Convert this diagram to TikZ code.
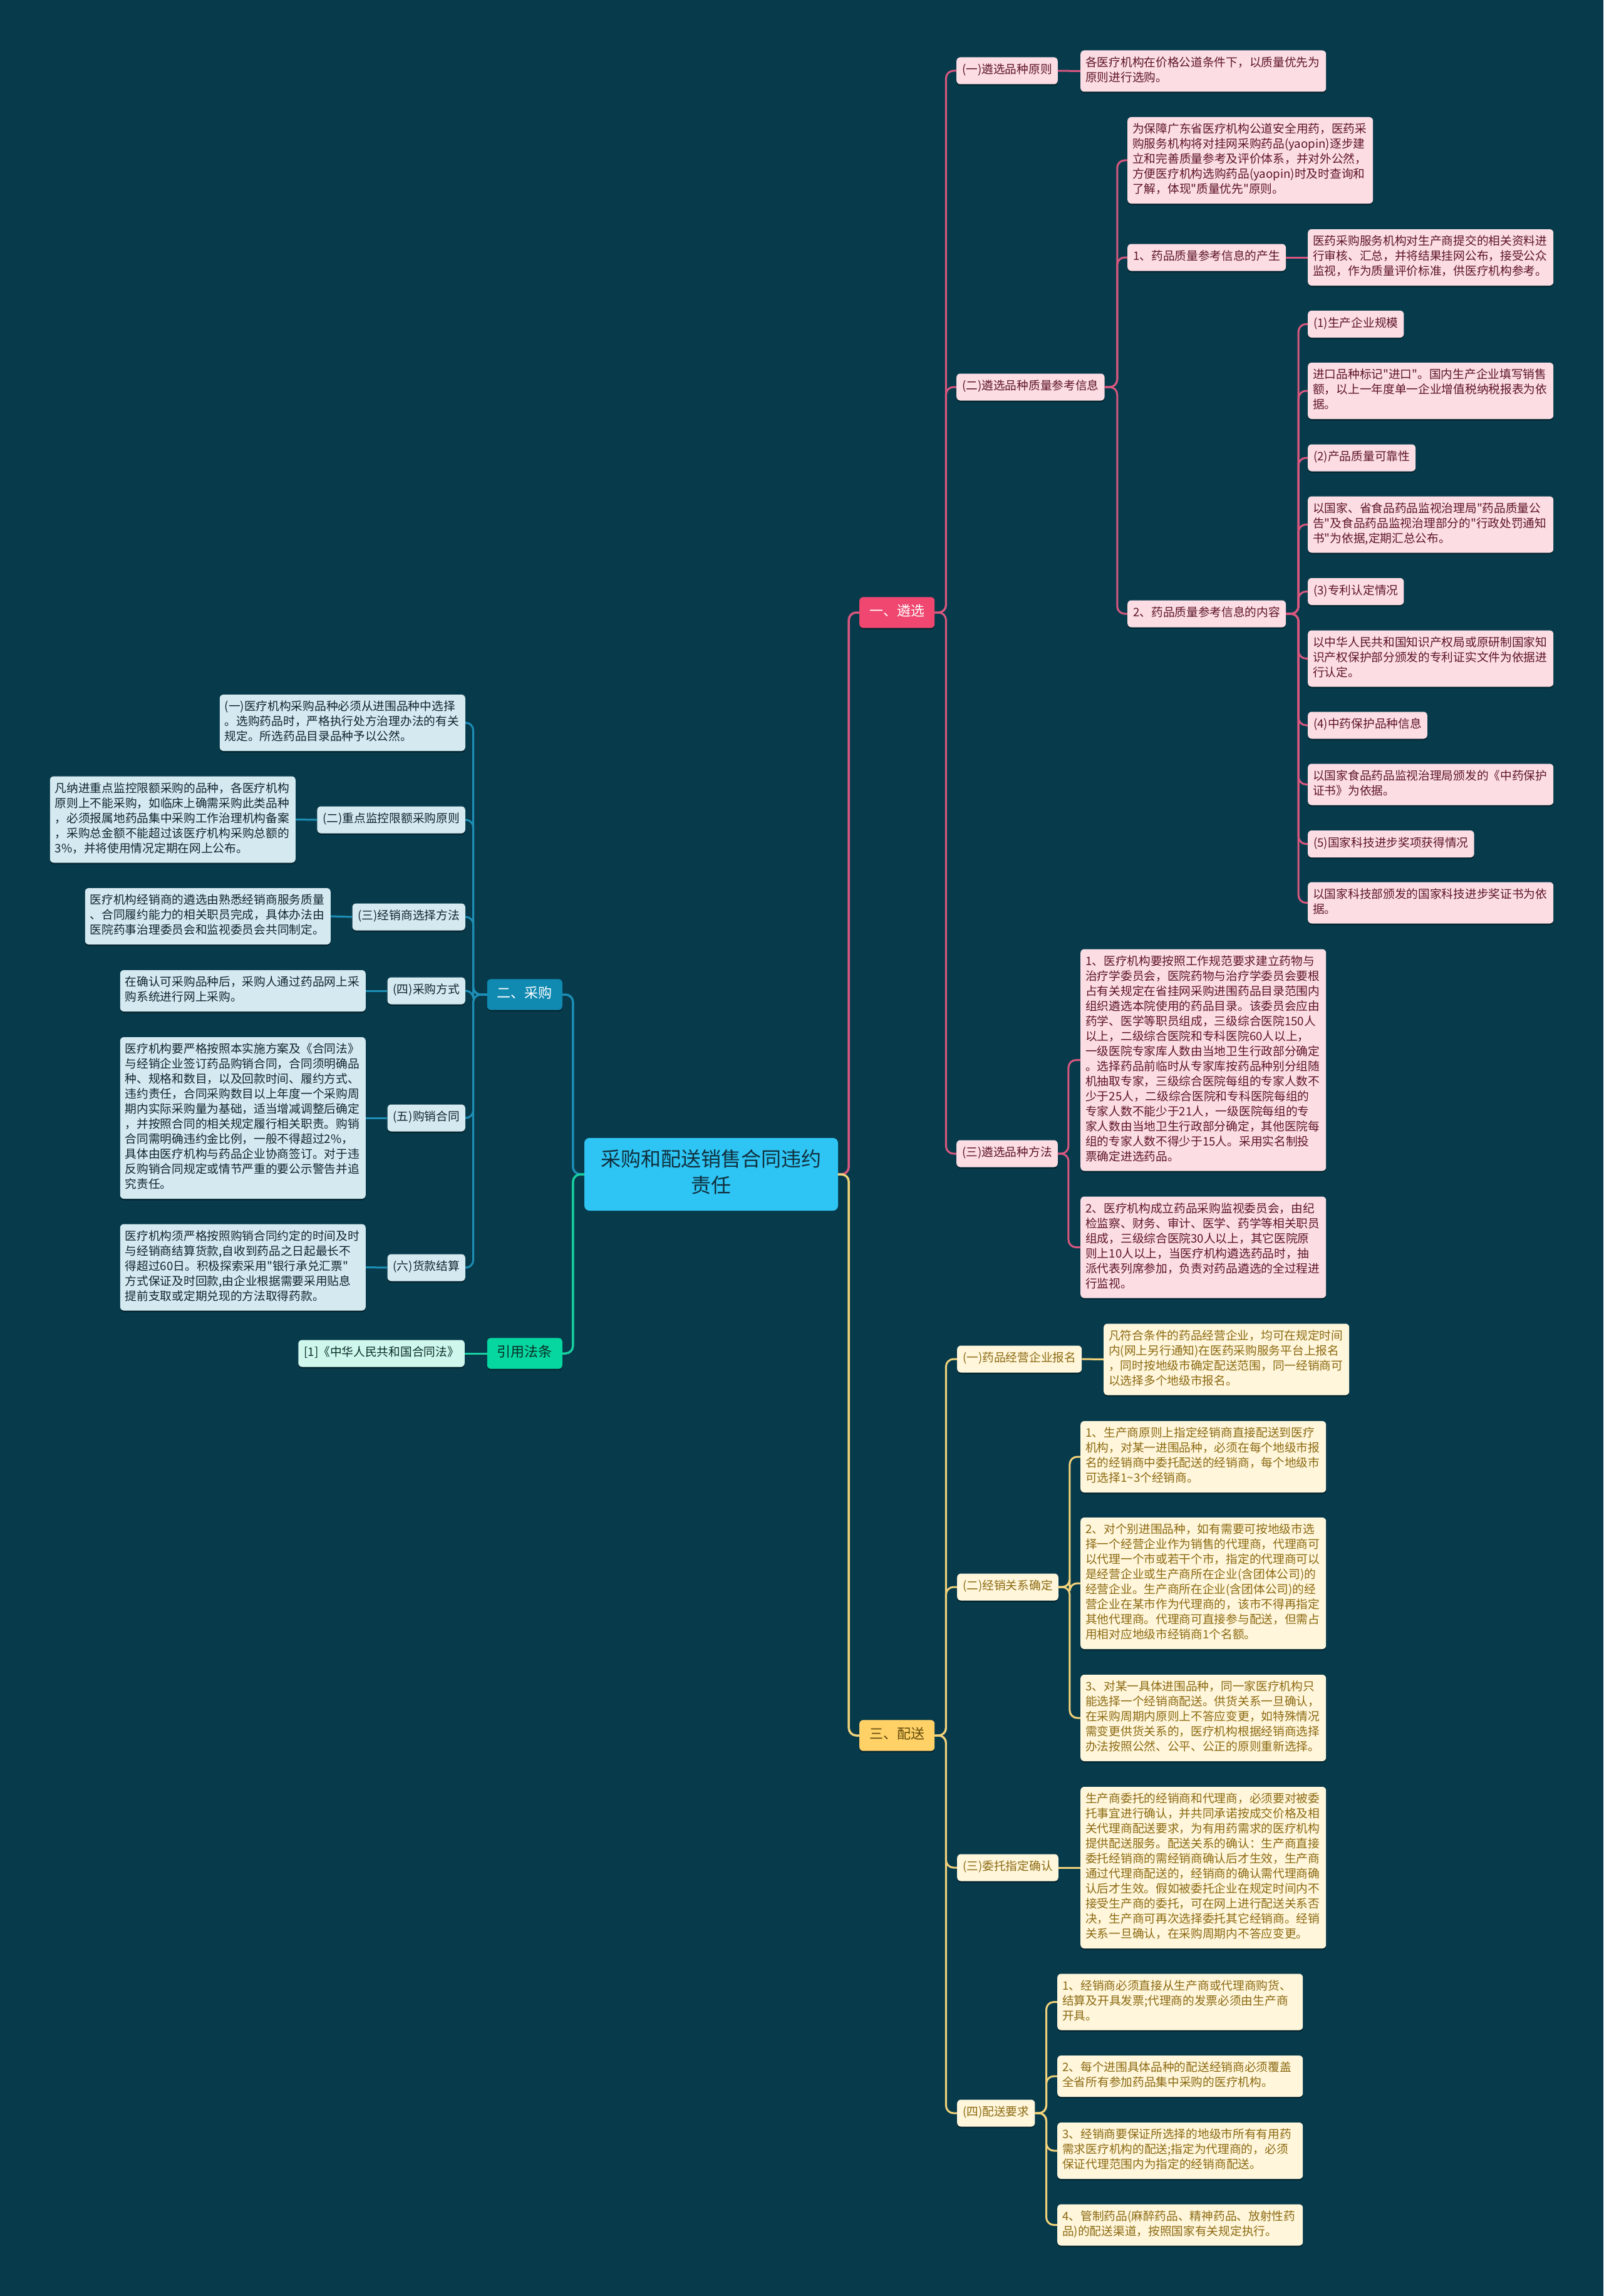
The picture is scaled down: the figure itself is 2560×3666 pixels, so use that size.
\documentclass[tikz,border=0pt]{standalone}
\usepackage{fontspec}
\setmainfont{Noto Sans CJK SC}[Ligatures=TeXOff]
\usetikzlibrary{shadows}
\definecolor{cbg}{HTML}{073B4C}
\definecolor{cpk}{HTML}{EF476F}
\definecolor{cpkln}{HTML}{D9577E}
\definecolor{cpkfill}{HTML}{FCDDE4}
\definecolor{cpktxt}{HTML}{5E1528}
\definecolor{cyw}{HTML}{FFD166}
\definecolor{cywln}{HTML}{F2D27A}
\definecolor{cywfill}{HTML}{FFF6DB}
\definecolor{cywtxt}{HTML}{8C6A12}
\definecolor{cbl}{HTML}{118AB2}
\definecolor{cblln}{HTML}{1E8EB6}
\definecolor{cblfill}{HTML}{D5E9F0}
\definecolor{cbltxt}{HTML}{0F2630}
\definecolor{cgr}{HTML}{06D6A0}
\definecolor{cgrln}{HTML}{18CFA0}
\definecolor{cgrfill}{HTML}{D0F7EC}
\definecolor{cgrtxt}{HTML}{0B2E26}
\definecolor{cctr}{HTML}{2EC4F3}
\definecolor{cctrtxt}{HTML}{10303E}

\begin{document}
\begin{tikzpicture}[x=1pt,y=-1pt,
  nshade/.style={drop shadow={shadow xshift=0pt,shadow yshift=-2.5pt,fill=black,opacity=0.35}},
  nbox/.style={rounded corners=6pt,nshade,font=\fontsize{18.7}{24}\selectfont,
    inner xsep=9pt,inner ysep=9.5pt,
    execute at begin node=\strut,execute at end node=\strut},
  nleaf/.style={nbox,text width=376pt,align=left,inner xsep=8pt,inner ysep=9pt},
  nmain/.style={rounded corners=6pt,nshade,font=\fontsize{22}{26}\selectfont,
    inner xsep=16pt,inner ysep=11.5pt,
    execute at begin node=\strut,execute at end node=\strut},
  pklab/.style={nbox,fill=cpkfill,text=cpktxt},
  pkleaf/.style={nleaf,fill=cpkfill,text=cpktxt},
  ywlab/.style={nbox,fill=cywfill,text=cywtxt},
  ywleaf/.style={nleaf,fill=cywfill,text=cywtxt},
  bllab/.style={nbox,fill=cblfill,text=cbltxt},
  blleaf/.style={nleaf,fill=cblfill,text=cbltxt},
  grlab/.style={nbox,fill=cgrfill,text=cgrtxt},
  mainpk/.style={nmain,fill=cpk,text=white},
  mainyw/.style={nmain,fill=cyw,text=cywtxt!70!black},
  mainbl/.style={nmain,fill=cbl,text=white},
  maingr/.style={nmain,fill=cgr,text=cgrtxt},
  lnpk/.style={draw=cpkln,line width=3pt,rounded corners=12pt},
  lnyw/.style={draw=cywln,line width=3pt,rounded corners=12pt},
  lnbl/.style={draw=cblln,line width=3pt,rounded corners=12pt},
  lngr/.style={draw=cgrln,line width=3pt,rounded corners=12pt}]
\useasboundingbox (0,0) rectangle (2560,3666);
\fill[cbg] (0,0) rectangle (2560,3666);

\node[rounded corners=8pt,fill=cctr,text=cctrtxt,font=\fontsize{32}{42}\selectfont,
  text width=354pt,align=center,inner xsep=25.5pt,inner ysep=16pt,
  execute at begin node=\strut,execute at end node=\strut] (root) at (1135.5,1875)
  {采购和配送销售合同违约\\责任};

\node[mainpk,anchor=west] (xuan) at (1372,978) {一、遴选};
\node[mainyw,anchor=west] (peis) at (1372,2771) {三、配送};
\node[mainbl,anchor=east] (cai) at (898,1588) {二、采购};
\node[maingr,anchor=east] (fatiao) at (898,2161) {引用法条};

% 一、遴选
\node[pklab,anchor=west] (xa) at (1527,113) {(一)遴选品种原则};
\node[pkleaf,anchor=west] (xa1) at (1725,113.5) {各医疗机构在价格公道条件下，以质量优先为\\原则进行选购。};
\node[pklab,anchor=west] (xb) at (1527,618) {(二)遴选品种质量参考信息};
\node[pkleaf,anchor=west] (xb0) at (1800,256) {为保障广东省医疗机构公道安全用药，医药采\\购服务机构将对挂网采购药品(yaopin)逐步建\\立和完善质量参考及评价体系，并对外公然，\\方便医疗机构选购药品(yaopin)时及时查询和\\了解，体现"质量优先"原则。};
\node[pklab,anchor=west] (xb1) at (1800,411) {1、药品质量参考信息的产生};
\node[pkleaf,anchor=west] (xb11) at (2088,411) {医药采购服务机构对生产商提交的相关资料进\\行审核、汇总，并将结果挂网公布，接受公众\\监视，作为质量评价标准，供医疗机构参考。};
\node[pklab,anchor=west] (xb2) at (1800,980) {2、药品质量参考信息的内容};
\node[pklab,anchor=west] (xc1) at (2088,517.5) {(1)生产企业规模};
\node[pkleaf,anchor=west] (xc2) at (2088,624) {进口品种标记"进口"。国内生产企业填写销售\\额，以上一年度单一企业增值税纳税报表为依\\据。};
\node[pklab,anchor=west] (xc3) at (2088,731) {(2)产品质量可靠性};
\node[pkleaf,anchor=west] (xc4) at (2088,837.5) {以国家、省食品药品监视治理局"药品质量公\\告"及食品药品监视治理部分的"行政处罚通知\\书"为依据,定期汇总公布。};
\node[pklab,anchor=west] (xc5) at (2088,944.5) {(3)专利认定情况};
\node[pkleaf,anchor=west] (xc6) at (2088,1051.5) {以中华人民共和国知识产权局或原研制国家知\\识产权保护部分颁发的专利证实文件为依据进\\行认定。};
\node[pklab,anchor=west] (xc7) at (2088,1158) {(4)中药保护品种信息};
\node[pkleaf,anchor=west] (xc8) at (2088,1252.5) {以国家食品药品监视治理局颁发的《中药保护\\证书》为依据。};
\node[pklab,anchor=west] (xc9) at (2088,1347.5) {(5)国家科技进步奖项获得情况};
\node[pkleaf,anchor=west] (xc10) at (2088,1441.5) {以国家科技部颁发的国家科技进步奖证书为依\\据。};
\node[pklab,anchor=west] (xd) at (1527,1842) {(三)遴选品种方法};
\node[pkleaf,anchor=west] (xd1) at (1725,1692.5) {1、医疗机构要按照工作规范要求建立药物与\\治疗学委员会，医院药物与治疗学委员会要根\\占有关规定在省挂网采购进围药品目录范围内\\组织遴选本院使用的药品目录。该委员会应由\\药学、医学等职员组成，三级综合医院150人\\以上，二级综合医院和专科医院60人以上，\\一级医院专家库人数由当地卫生行政部分确定\\。选择药品前临时从专家库按药品种别分组随\\机抽取专家，三级综合医院每组的专家人数不\\少于25人，二级综合医院和专科医院每组的\\专家人数不能少于21人，一级医院每组的专\\家人数由当地卫生行政部分确定，其他医院每\\组的专家人数不得少于15人。采用实名制投\\票确定进选药品。};
\node[pkleaf,anchor=west] (xd2) at (1725,1991.5) {2、医疗机构成立药品采购监视委员会，由纪\\检监察、财务、审计、医学、药学等相关职员\\组成，三级综合医院30人以上，其它医院原\\则上10人以上，当医疗机构遴选药品时，抽\\派代表列席参加，负责对药品遴选的全过程进\\行监视。};

% 三、配送
\node[ywlab,anchor=west] (pa) at (1528,2170) {(一)药品经营企业报名};
\node[ywleaf,anchor=west] (pa1) at (1762,2170.5) {凡符合条件的药品经营企业，均可在规定时间\\内(网上另行通知)在医药采购服务平台上报名\\，同时按地级市确定配送范围，同一经销商可\\以选择多个地级市报名。};
\node[ywlab,anchor=west] (pb) at (1528,2534) {(二)经销关系确定};
\node[ywleaf,anchor=west] (pb1) at (1725,2326) {1、生产商原则上指定经销商直接配送到医疗\\机构，对某一进围品种，必须在每个地级市报\\名的经销商中委托配送的经销商，每个地级市\\可选择1\textasciitilde 3个经销商。};
\node[ywleaf,anchor=west] (pb2) at (1725,2528) {2、对个别进围品种，如有需要可按地级市选\\择一个经营企业作为销售的代理商，代理商可\\以代理一个市或若干个市，指定的代理商可以\\是经营企业或生产商所在企业(含团体公司)的\\经营企业。生产商所在企业(含团体公司)的经\\营企业在某市作为代理商的，该市不得再指定\\其他代理商。代理商可直接参与配送，但需占\\用相对应地级市经销商1个名额。};
\node[ywleaf,anchor=west] (pb3) at (1725,2743) {3、对某一具体进围品种，同一家医疗机构只\\能选择一个经销商配送。供货关系一旦确认，\\在采购周期内原则上不答应变更，如特殊情况\\需变更供货关系的，医疗机构根据经销商选择\\办法按照公然、公平、公正的原则重新选择。};
\node[ywlab,anchor=west] (pc) at (1528,2982) {(三)委托指定确认};
\node[ywleaf,anchor=west] (pc1) at (1725,2982) {生产商委托的经销商和代理商，必须要对被委\\托事宜进行确认，并共同承诺按成交价格及相\\关代理商配送要求，为有用药需求的医疗机构\\提供配送服务。配送关系的确认：生产商直接\\委托经销商的需经销商确认后才生效，生产商\\通过代理商配送的，经销商的确认需代理商确\\认后才生效。假如被委托企业在规定时间内不\\接受生产商的委托，可在网上进行配送关系否\\决，生产商可再次选择委托其它经销商。经销\\关系一旦确认，在采购周期内不答应变更。};
\node[ywlab,anchor=west] (pd) at (1528,3374) {(四)配送要求};
\node[ywleaf,anchor=west] (pd1) at (1688,3196.5) {1、经销商必须直接从生产商或代理商购货、\\结算及开具发票;代理商的发票必须由生产商\\开具。};
\node[ywleaf,anchor=west] (pd2) at (1688,3315) {2、每个进围具体品种的配送经销商必须覆盖\\全省所有参加药品集中采购的医疗机构。};
\node[ywleaf,anchor=west] (pd3) at (1688,3434) {3、经销商要保证所选择的地级市所有有用药\\需求医疗机构的配送;指定为代理商的，必须\\保证代理范围内为指定的经销商配送。};
\node[ywleaf,anchor=west] (pd4) at (1688,3552.5) {4、管制药品(麻醉药品、精神药品、放射性药\\品)的配送渠道，按照国家有关规定执行。};

% 二、采购
\node[blleaf,anchor=east] (ca) at (743,1154) {(一)医疗机构采购品种必须从进围品种中选择\\。选购药品时，严格执行处方治理办法的有关\\规定。所选药品目录品种予以公然。};
\node[bllab,anchor=east] (cb) at (743,1309) {(二)重点监控限额采购原则};
\node[blleaf,anchor=east] (cb1) at (472,1308.5) {凡纳进重点监控限额采购的品种，各医疗机构\\原则上不能采购，如临床上确需采购此类品种\\，必须报属地药品集中采购工作治理机构备案\\，采购总金额不能超过该医疗机构采购总额的\\3\%，并将使用情况定期在网上公布。};
\node[bllab,anchor=east] (cc) at (743,1464) {(三)经销商选择方法};
\node[blleaf,anchor=east] (cc1) at (528,1463) {医疗机构经销商的遴选由熟悉经销商服务质量\\、合同履约能力的相关职员完成，具体办法由\\医院药事治理委员会和监视委员会共同制定。};
\node[bllab,anchor=east] (cd) at (743,1582) {(四)采购方式};
\node[blleaf,anchor=east] (cd1) at (584,1582) {在确认可采购品种后，采购人通过药品网上采\\购系统进行网上采购。};
\node[bllab,anchor=east] (ce) at (743,1785) {(五)购销合同};
\node[blleaf,anchor=east] (ce1) at (584,1785) {医疗机构要严格按照本实施方案及《合同法》\\与经销企业签订药品购销合同，合同须明确品\\种、规格和数目，以及回款时间、履约方式、\\违约责任，合同采购数目以上年度一个采购周\\期内实际采购量为基础，适当增减调整后确定\\，并按照合同的相关规定履行相关职责。购销\\合同需明确违约金比例，一般不得超过2\%，\\具体由医疗机构与药品企业协商签订。对于违\\反购销合同规定或情节严重的要公示警告并追\\究责任。};
\node[bllab,anchor=east] (cf) at (743,2024) {(六)货款结算};
\node[blleaf,anchor=east] (cf1) at (584,2023.5) {医疗机构须严格按照购销合同约定的时间及时\\与经销商结算货款,自收到药品之日起最长不\\得超过60日。积极探索采用"银行承兑汇票"\\方式保证及时回款,由企业根据需要采用贴息\\提前支取或定期兑现的方法取得药款。};

% 引用法条
\node[grlab,anchor=east] (fa1) at (742,2161) {[1]《中华人民共和国合同法》};

% connectors
\draw[lnpk,line width=3.5pt] (root.east) -- ++(17,0) |- (xuan.west);
\draw[lnyw,line width=3.5pt] (root.east) -- ++(17,0) |- (peis.west);
\draw[lnbl,line width=3.5pt] (root.west) -- ++(-18,0) |- (cai.east);
\draw[lngr,line width=3.5pt] (root.west) -- ++(-18,0) |- (fatiao.east);

\foreach \c in {xa,xb,xd} \draw[lnpk] (xuan.east) -- ++(18,0) |- (\c.west);
\draw[lnpk] (xa.east) -- (xa1.west);
\foreach \c in {xb0,xb1,xb2} \draw[lnpk] (xb.east) -- ++(20,0) |- (\c.west);
\draw[lnpk] (xb1.east) -- (xb11.west);
\foreach \c in {xc1,xc2,xc3,xc4,xc5,xc6,xc7,xc8,xc9,xc10} \draw[lnpk] (xb2.east) -- ++(20,0) |- (\c.west);
\foreach \c in {xd1,xd2} \draw[lnpk] (xd.east) -- ++(17,0) |- (\c.west);

\foreach \c in {pa,pb,pc,pd} \draw[lnyw] (peis.east) -- ++(18,0) |- (\c.west);
\draw[lnyw] (pa.east) -- (pa1.west);
\foreach \c in {pb1,pb2,pb3} \draw[lnyw] (pb.east) -- ++(18,0) |- (\c.west);
\draw[lnyw] (pc.east) -- (pc1.west);
\foreach \c in {pd1,pd2,pd3,pd4} \draw[lnyw] (pd.east) -- ++(18,0) |- (\c.west);

\foreach \c in {ca,cb,cc,cd,ce,cf} \draw[lnbl] (cai.west) -- ++(-22,0) |- (\c.east);
\draw[lnbl] (cb.west) -- (cb1.east);
\draw[lnbl] (cc.west) -- (cc1.east);
\draw[lnbl] (cd.west) -- (cd1.east);
\draw[lnbl] (ce.west) -- (ce1.east);
\draw[lnbl] (cf.west) -- (cf1.east);

\draw[lngr] (fatiao.west) -- (fa1.east);
\end{tikzpicture}
\end{document}
